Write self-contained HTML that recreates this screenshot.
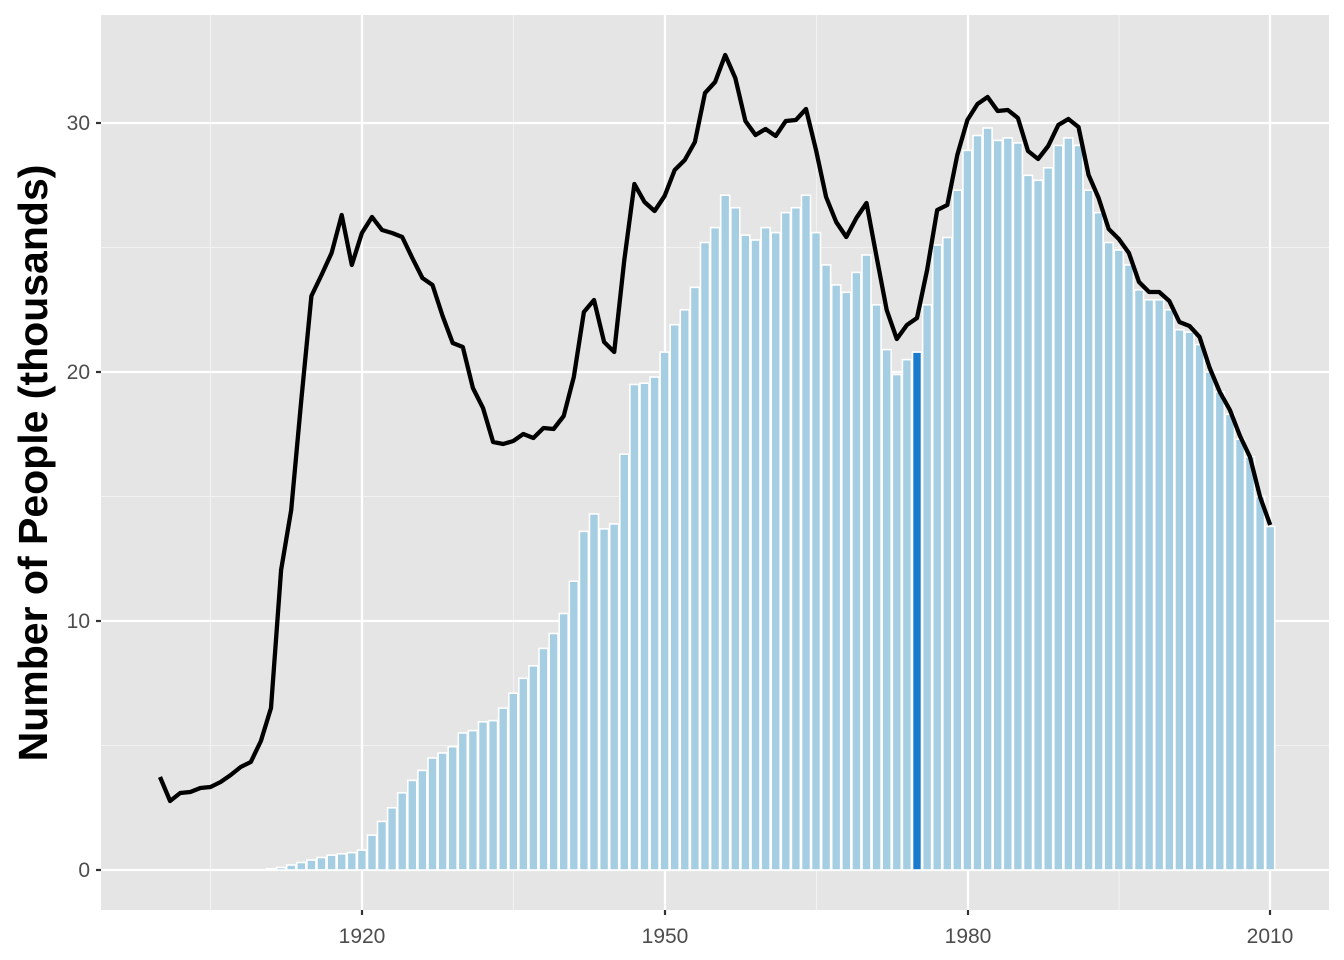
<!DOCTYPE html>
<html><head><meta charset="utf-8"><style>
html,body{margin:0;padding:0;background:#fff;}
svg{display:block;font-family:"Liberation Sans",Arial,sans-serif;}
</style></head><body>
<svg id="s" width="1344" height="960" viewBox="0 0 1344 960" xmlns="http://www.w3.org/2000/svg">
<rect x="101" y="15" width="1228" height="895" fill="#e5e5e5"/>
<g stroke="#f2f2f2" stroke-width="1.1">
<line x1="101" x2="1329" y1="745.5" y2="745.5"/><line x1="101" x2="1329" y1="496.5" y2="496.5"/><line x1="101" x2="1329" y1="247.5" y2="247.5"/>
<line y1="15" y2="910" x1="210.5" x2="210.5"/><line y1="15" y2="910" x1="513.5" x2="513.5"/><line y1="15" y2="910" x1="816.5" x2="816.5"/><line y1="15" y2="910" x1="1119" x2="1119"/>
</g>
<g stroke="#fff" stroke-width="2.2">
<line x1="101" x2="1329" y1="870" y2="870"/><line x1="101" x2="1329" y1="621" y2="621"/><line x1="101" x2="1329" y1="372" y2="372"/><line x1="101" x2="1329" y1="123" y2="123"/>
<line y1="15" y2="910" x1="362" x2="362"/><line y1="15" y2="910" x1="665" x2="665"/><line y1="15" y2="910" x1="968" x2="968"/><line y1="15" y2="910" x1="1270" x2="1270"/>
</g>
<g id="bars"></g>
<polyline id="ln" fill="none" stroke="#000" stroke-width="4.3" stroke-linejoin="round"/>
<g stroke="#333" stroke-width="2.2">
<line x1="96" x2="101" y1="870" y2="870"/><line x1="96" x2="101" y1="621" y2="621"/><line x1="96" x2="101" y1="372" y2="372"/><line x1="96" x2="101" y1="123" y2="123"/>
<line y1="910" y2="915" x1="362" x2="362"/><line y1="910" y2="915" x1="665" x2="665"/><line y1="910" y2="915" x1="968" x2="968"/><line y1="910" y2="915" x1="1270" x2="1270"/>
</g>
<g fill="#4d4d4d" font-size="21" text-anchor="end">
<text x="90" y="877">0</text><text x="90" y="628">10</text><text x="90" y="379">20</text><text x="90" y="130">30</text>
</g>
<g fill="#4d4d4d" font-size="21" text-anchor="middle">
<text x="362" y="943">1920</text><text x="665" y="943">1950</text><text x="968" y="943">1980</text><text x="1270" y="943">2010</text>
</g>
<text transform="translate(47,463) rotate(-90)" text-anchor="middle" font-size="41" font-weight="bold" fill="#000">Number of People (thousands)</text>
</svg>
<script>
var b=[0,0,0,0,0,0,0,0,0,0,0,0.05,0.1,0.2,0.3,0.4,0.5,0.6,0.65,0.7,0.8,1.4,1.95,2.5,3.1,3.6,4.0,4.5,4.7,4.95,5.5,5.6,5.95,6.0,6.5,7.1,7.7,8.2,8.9,9.5,10.3,11.6,13.6,14.3,13.7,13.9,16.7,19.5,19.55,19.8,20.8,21.9,22.5,23.4,25.2,25.8,27.1,26.6,25.5,25.3,25.8,25.6,26.4,26.6,27.1,25.6,24.3,23.5,23.2,24.0,24.7,22.7,20.9,19.9,20.5,20.8,22.7,25.1,25.4,27.3,28.9,29.5,29.8,29.3,29.4,29.2,27.9,27.7,28.2,29.1,29.4,29.1,27.3,26.4,25.2,24.9,24.3,23.3,22.9,22.9,22.5,21.7,21.6,21.1,20.0,19.2,18.3,17.3,16.6,15.0,13.8];
var g=document.getElementById('bars'),s='';
for(var i=0;i<b.length;i++){var x=160+i*10.093,h=b[i]*24.9,y=870-h;
s+='<rect x="'+(x-4.5).toFixed(1)+'" y="'+y.toFixed(1)+'" width="9" height="'+h.toFixed(1)+'" fill="'+(i==75?'#1a7acd':'#a6cee3')+'" stroke="#fff" stroke-width="1.6"/>';}
g.innerHTML=s;
var ly=[777,801,793,792,788,787,782,775,767,762,741,708,570,510,400,296,275,253,215,265,233,217,230,233,237,258,278,285,316,343,347,388,408,442,444,441,434,438,428,429,416,377,312,300,342,352,260,184,202,211,196,170,160,142,93,82,55,78,121,135,129,136,121,120,109,150,197,222,237,218,203,257,310,339,325,318,270,210,205,155,120,104,97,111,110,118,151,159,146,125,119,127,175,198,229,239,253,282,292,292,301,322,326,337,368,392,410,436,457,497,525];
var p=[];for(var i=0;i<ly.length;i++)p.push((160+i*10.093).toFixed(1)+','+ly[i]);
document.getElementById('ln').setAttribute('points',p.join(' '));
</script>
</body></html>
